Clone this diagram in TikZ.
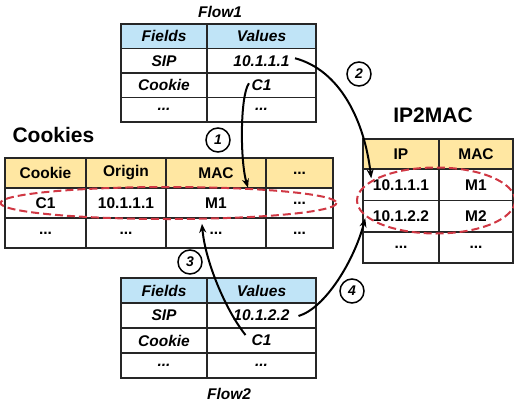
\documentclass[tikz,border=0pt]{standalone}
\usepackage{fontspec}
\setmainfont{Liberation Sans}
\usetikzlibrary{arrows.meta,calc}
\definecolor{hblue}{RGB}{192,228,247}
\definecolor{hyel}{RGB}{255,231,162}
\definecolor{dred}{RGB}{208,56,68}
\newcommand\tcell[8]{\node[cell,fill=#6,minimum width={(#3-#2)*1pt},minimum height={(#5-#4)*1pt}] (#1) at ({(#2+#3)/2},{(#4+#5)/2}) {#7#8};}
\begin{document}
\begin{tikzpicture}[x=1pt,y=-1pt,
  cell/.style={draw=black!85,line width=1.5pt,inner sep=0pt,text=black,font=\fontsize{15.5}{18}\selectfont\bfseries},
  ttl/.style={text=black,font=\fontsize{21}{24}\selectfont\bfseries},
  fttl/.style={text=black,font=\fontsize{15.5}{18}\selectfont\bfseries\itshape},
  num/.style={circle,draw=black,line width=1.5pt,minimum size=24pt,inner sep=0pt,font=\fontsize{14}{16}\selectfont\bfseries\itshape},
  conn/.style={line width=2pt,-{Stealth[length=9pt,width=7pt]}},
  sel/.style={draw=dred,line width=2pt,dash pattern=on 8pt off 4pt}]
\useasboundingbox (0,0) rectangle (514,407);
% Flow1
\node[fttl] (f1t) at (220,12) {Flow1};
\tcell{f1hf}{121}{207}{24}{48.5}{hblue}{\itshape}{Fields}
\tcell{f1hv}{207}{316}{24}{48.5}{hblue}{\itshape}{Values}
\tcell{f1sip}{121}{207}{48.5}{73}{white}{\itshape}{SIP}
\tcell{f1sipv}{207}{316}{48.5}{73}{white}{\itshape}{10.1.1.1}
\tcell{f1ck}{121}{207}{73}{97.5}{white}{\itshape}{Cookie}
\tcell{f1ckv}{207}{316}{73}{97.5}{white}{\itshape}{C1}
\tcell{f1d1}{121}{207}{97.5}{122}{white}{\itshape}{...}
\tcell{f1d2}{207}{316}{97.5}{122}{white}{\itshape}{...}
% Cookies
\node[ttl,anchor=west] (ckt) at (9,135) {Cookies};
\tcell{ckh1}{5}{86}{158}{188}{hyel}{}{Cookie}
\tcell{ckh2}{86}{166}{158}{188}{hyel}{}{Origin}
\tcell{ckh3}{166}{266}{158}{188}{hyel}{}{MAC}
\tcell{ckh4}{266}{333}{158}{188}{hyel}{}{...}
\tcell{ckr1}{5}{86}{188}{218}{white}{}{C1}
\tcell{ckr2}{86}{166}{188}{218}{white}{}{10.1.1.1}
\tcell{ckr3}{166}{266}{188}{218}{white}{}{M1}
\tcell{ckr4}{266}{333}{188}{218}{white}{}{...}
\tcell{ckd1}{5}{86}{218}{248}{white}{}{...}
\tcell{ckd2}{86}{166}{218}{248}{white}{}{...}
\tcell{ckd3}{166}{266}{218}{248}{white}{}{...}
\tcell{ckd4}{266}{333}{218}{248}{white}{}{...}
% IP2MAC
\node[ttl] (ipt) at (433,115) {IP2MAC};
\tcell{iph1}{363}{439}{139}{169}{hyel}{}{IP}
\tcell{iph2}{439}{513}{139}{169}{hyel}{}{MAC}
\tcell{ipa1}{363}{439}{169}{200.5}{white}{}{10.1.1.1}
\tcell{ipa2}{439}{513}{169}{200.5}{white}{}{M1}
\tcell{ipb1}{363}{439}{200.5}{232}{white}{}{10.1.2.2}
\tcell{ipb2}{439}{513}{200.5}{232}{white}{}{M2}
\tcell{ipd1}{363}{439}{232}{263}{white}{}{...}
\tcell{ipd2}{439}{513}{232}{263}{white}{}{...}
% Flow2
\node[fttl] (f2t) at (229,394) {Flow2};
\tcell{f2hf}{121}{207}{278}{303}{hblue}{\itshape}{Fields}
\tcell{f2hv}{207}{316}{278}{303}{hblue}{\itshape}{Values}
\tcell{f2sip}{121}{207}{303}{328}{white}{\itshape}{SIP}
\tcell{f2sipv}{207}{316}{303}{328}{white}{\itshape}{10.1.2.2}
\tcell{f2ck}{121}{207}{328}{353}{white}{\itshape}{Cookie}
\tcell{f2ckv}{207}{316}{328}{353}{white}{\itshape}{C1}
\tcell{f2d1}{121}{207}{353}{378}{white}{\itshape}{...}
\tcell{f2d2}{207}{316}{353}{378}{white}{\itshape}{...}
% selection ellipses
\draw[sel] (168.5,203) ellipse [x radius=168,y radius=16];
\draw[sel] (436,200.5) ellipse [x radius=79,y radius=33];
% step numbers
\node[num] (n1) at (218,140) {1};
\node[num] (n2) at (359,74) {2};
\node[num] (n3) at (190,262) {3};
\node[num] (n4) at (352,291) {4};
% connectors
\coordinate (a1s) at ($(f1ckv.center)+(-12.5,-2)$);
\coordinate (a1e) at ($(ckh3.south)+(32,-1)$);
\coordinate (a2s) at ($(f1sipv.center)+(33.5,-2.5)$);
\coordinate (a2e) at ($(ipa1.west)+(9,-6.5)$);
\coordinate (a3s) at ($(f2ckv.center)+(-16,-5.5)$);
\coordinate (a3e) at ($(ckr3.south)+(-14,5)$);
\coordinate (a4s) at ($(f2sipv.center)+(37,0.5)$);
\coordinate (a4e) at ($(ipb1.west)+(3,2)$);
\draw[conn] (a1s) .. controls +(-9,12) and +(-8,-27) .. (a1e);
\draw[conn] (a2s) .. controls +(45,12) and +(-7,-58) .. (a2e);
\draw[conn] (a3s) .. controls +(-20,-25) and +(3,37) .. (a3e);
\draw[conn] (a4s) .. controls +(27,-8) and +(-11,42) .. (a4e);
\end{tikzpicture}
\end{document}
